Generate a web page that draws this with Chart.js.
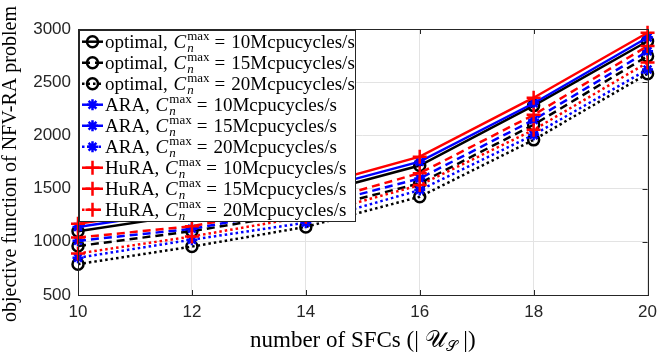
<!DOCTYPE html>
<html><head><meta charset="utf-8">
<script src="https://cdn.jsdelivr.net/npm/chart.js@4/dist/chart.umd.min.js"></script>
<style>html,body{margin:0;padding:0;background:#fff;}#wrap{width:664px;height:359px;position:relative;}</style>
</head><body><div id="wrap"><canvas id="c" width="664" height="359"></canvas></div>
<script>
const sfcCounts = [10, 12, 14, 16, 18, 20];
const yTicks = [500, 1000, 1500, 2000, 2500, 3000];
const optimal10 = [1100, 1260, 1430, 1717, 2280, 2885];
const optimal15 = [960, 1100, 1278, 1550, 2100, 2745];
const optimal20 = [790, 955, 1140, 1423, 1958, 2580];
const ara10 = [1140, 1300, 1467, 1753, 2302, 2920];
const ara15 = [1010, 1122, 1315, 1596, 2146, 2790];
const ara20 = [850, 1020, 1180, 1486, 2005, 2620];
const hura10 = [1170, 1330, 1503, 1800, 2354, 2965];
const hura15 = [1040, 1147, 1343, 1645, 2193, 2840];
const hura20 = [890, 1050, 1236, 1533, 2052, 2685];
const capacities = ['10', '15', '20'];
const methodNames = ['optimal', 'ARA', 'HuRA'];

const colors = ['#000000', '#0000ff', '#ff0000'];
const styles = ['circle', 'star', 'cross'];
const radii = [5.5, 5.5, 7];
const dashes = [[], [8, 5], [2.5, 3]];
const seriesData = [[optimal10, optimal15, optimal20], [ara10, ara15, ara20], [hura10, hura15, hura20]];

const datasets = [];
for (let m = 0; m < 3; m++) {
  for (let k = 0; k < 3; k++) {
    const idx = m * 3 + k;
    datasets.push({
      label: methodNames[m] + ', C_n^max = ' + capacities[k] + 'Mcpucycles/s',
      method: m, cap: k,
      data: sfcCounts.map((x, i) => ({x: x, y: seriesData[m][k][i]})),
      borderColor: colors[m], backgroundColor: 'rgba(0,0,0,0)',
      pointBorderColor: colors[m], pointBackgroundColor: 'rgba(0,0,0,0)',
      pointStyle: styles[m], pointRadius: radii[m], pointBorderWidth: 2.5,
      borderWidth: 2.5, borderDash: dashes[k], tension: 0, fill: false,
      clip: false, order: 9 - idx
    });
  }
}

const SERIF = '"Liberation Serif", "DejaVu Serif", serif';
const SANS = '"Liberation Sans", Arial, sans-serif';

const decor = {
  id: 'decor',
  afterDraw(chart) {
    const ctx = chart.ctx, a = chart.chartArea;
    const xs = chart.scales.x, ys = chart.scales.y;
    ctx.save();
    ctx.strokeStyle = '#262626'; ctx.lineWidth = 1; ctx.setLineDash([]);
    ctx.strokeRect(Math.round(a.left) + 0.5, Math.round(a.top) + 0.5, Math.round(a.right - a.left), Math.round(a.bottom - a.top));
    ctx.beginPath();
    sfcCounts.forEach(v => { const p = Math.round(xs.getPixelForValue(v)) + 0.5;
      ctx.moveTo(p, a.bottom); ctx.lineTo(p, a.bottom - 5); ctx.moveTo(p, a.top); ctx.lineTo(p, a.top + 5); });
    yTicks.forEach(v => { const p = Math.round(ys.getPixelForValue(v)) + 0.5;
      ctx.moveTo(a.left, p); ctx.lineTo(a.left + 5, p); ctx.moveTo(a.right, p); ctx.lineTo(a.right - 5, p); });
    ctx.stroke();

    // legend
    const lx = 79, ly = 30, lw = 276, lh = 191;
    ctx.fillStyle = '#ffffff'; ctx.fillRect(lx, ly, lw, lh);
    ctx.strokeStyle = '#262626'; ctx.lineWidth = 1;
    ctx.strokeRect(lx + 0.5, ly + 0.5, lw, lh);
    chart.data.datasets.forEach((ds, i) => {
      const cy = 41.7 + 21 * i;
      ctx.save();
      ctx.strokeStyle = ds.borderColor; ctx.lineWidth = 2.5; ctx.setLineDash(ds.borderDash);
      ctx.beginPath(); ctx.moveTo(82, cy); ctx.lineTo(103, cy); ctx.stroke();
      ctx.setLineDash([]);
      ctx.strokeStyle = ds.borderColor; ctx.fillStyle = 'rgba(0,0,0,0)'; ctx.lineWidth = 2.5;
      Chart.helpers.drawPoint(ctx, {pointStyle: ds.pointStyle, radius: ds.pointRadius, borderWidth: 2.5, rotation: 0}, 92.5, cy);
      ctx.restore();
      ctx.fillStyle = '#000'; ctx.textBaseline = 'alphabetic'; ctx.textAlign = 'left';
      let x = 105; const base = cy + 6;
      ctx.font = '19px ' + SERIF;
      const t1 = methodNames[ds.method] + ', ';
      ctx.fillText(t1, x, base); x += ctx.measureText(t1).width + 1;
      ctx.font = 'italic 19px ' + SERIF;
      ctx.fillText('C', x, base); x += ctx.measureText('C').width + 1;
      ctx.font = '13px ' + SERIF;
      const wmax = ctx.measureText('max').width;
      ctx.fillText('max', x, base - 8);
      ctx.font = 'italic 13px ' + SERIF;
      ctx.fillText('n', x, base + 4);
      x += wmax + 5;
      ctx.font = '19px ' + SERIF;
      ctx.fillText('=', x, base); x += ctx.measureText('=').width + 6;
      ctx.fillText(capacities[ds.cap] + 'Mcpucycles/s', x, base);
    });

    // y title
    ctx.save();
    ctx.translate(11, 164);
    ctx.rotate(-Math.PI / 2);
    ctx.font = '20px ' + SERIF; ctx.fillStyle = '#000'; ctx.textAlign = 'center'; ctx.textBaseline = 'middle';
    ctx.fillText('objective function of NFV-RA problem', 0, 0);
    ctx.restore();

    // x title
    ctx.fillStyle = '#000'; ctx.textBaseline = 'alphabetic'; ctx.textAlign = 'left';
    const parts = [['number of SFCs (| ', '23px ' + SERIF, 0], ['\u{1D4B0}', '23px ' + SERIF, 0], ['\u{1D4AE}', '15px ' + SERIF, 4], [' |)', '23px ' + SERIF, 0]];
    let tw = 0;
    parts.forEach(p => { ctx.font = p[1]; tw += ctx.measureText(p[0]).width; });
    let x0 = (a.left + a.right) / 2 - tw / 2; const by = 347;
    parts.forEach(p => { ctx.font = p[1]; ctx.fillText(p[0], x0, by + p[2]); x0 += ctx.measureText(p[0]).width; });
    ctx.restore();
  }
};

new Chart(document.getElementById('c'), {
  type: 'line',
  data: { datasets: datasets },
  options: {
    responsive: false, animation: false, devicePixelRatio: 1,
    layout: { padding: { top: 29, right: 11, left: 0, bottom: 0 } },
    plugins: { legend: { display: false }, tooltip: { enabled: false } },
    scales: {
      x: { type: 'linear', min: 10, max: 20,
        ticks: { stepSize: 2, font: { family: SANS, size: 17 }, color: '#262626', padding: 7, callback: v => String(v) },
        grid: { color: '#e3e3e3', drawTicks: false }, border: { display: false },
        afterFit(s) { s.height = 64; } },
      y: { min: 500, max: 3000,
        ticks: { stepSize: 500, font: { family: SANS, size: 17 }, color: '#262626', padding: 7, callback: v => String(v) },
        grid: { color: '#e3e3e3', drawTicks: false }, border: { display: false },
        afterFit(s) { s.width = 78; } }
    }
  },
  plugins: [decor]
});
</script></body></html>
